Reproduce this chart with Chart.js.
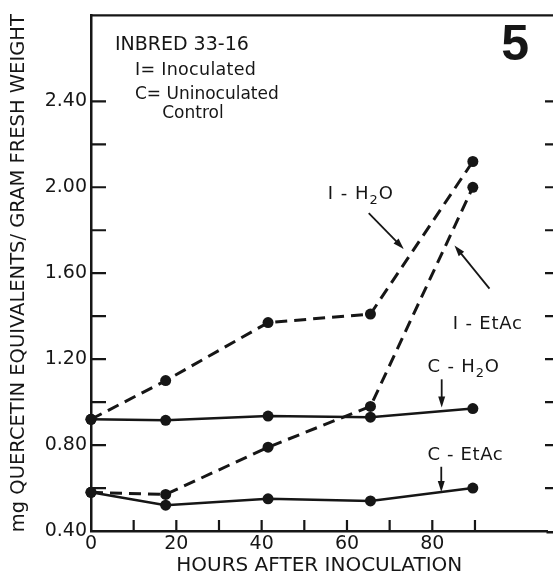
<!DOCTYPE html>
<html>
<head>
<meta charset="utf-8">
<script src="https://cdn.jsdelivr.net/npm/chart.js@4.4.1/dist/chart.umd.min.js"></script>
<style>
  body { margin: 0; background: #fff; }
</style>
</head>
<body>
<canvas id="myChart" width="553" height="579"></canvas>
<script>
    // hours after inoculation
    const hours = [0, 17.5, 41.5, 65.5, 89.5];
    // mg quercetin equivalents / g fresh weight
    const iH2O = [0.92, 1.10, 1.37, 1.41, 2.12];
    const iEtAc = [0.58, 0.57, 0.79, 0.98, 2.00];
    const cH2O = [0.92, 0.915, 0.935, 0.93, 0.97];
    const cEtAc = [0.58, 0.52, 0.55, 0.54, 0.60];
    // tick marks and labelled ticks
    const xTicks = [0, 10, 20, 30, 40, 50, 60, 70, 80, 90];
    const xLabels = [0, 20, 40, 60, 80];
    const yTicks = [0.40, 0.60, 0.80, 1.00, 1.20, 1.40, 1.60, 1.80, 2.00, 2.20, 2.40];
    const yLabels = [0.40, 0.80, 1.20, 1.60, 2.00, 2.40];

    // text notes and arrows, placed in data units
    const notes = [
        {parts: [['INBRED 33-16', 0]], x: 5.6, y: 2.66, size: 19, spacing: 0},
        {parts: [['I= Inoculated', 0]], x: 10.3, y: 2.545, size: 17.5, spacing: 0.3},
        {parts: [['C= Uninoculated', 0]], x: 10.3, y: 2.43, size: 17, spacing: 0},
        {parts: [['Control', 0]], x: 16.7, y: 2.345, size: 17, spacing: 0},
        {parts: [['I - H', 0], ['2', 1], ['O', 0]], x: 55.5, y: 1.965, size: 18, spacing: 1},
        {parts: [['I - EtAc', 0]], x: 84.8, y: 1.36, size: 18, spacing: 0.8},
        {parts: [['C - H', 0], ['2', 1], ['O', 0]], x: 78.9, y: 1.16, size: 18, spacing: 0.8},
        {parts: [['C - EtAc', 0]], x: 78.9, y: 0.75, size: 18, spacing: 0.6}
    ];
    const arrows = [
        {from: [65.1, 1.88], to: [73.3, 1.713]},
        {from: [93.4, 1.528], to: [85.2, 1.729]},
        {from: [82.2, 1.106], to: [82.2, 0.975]},
        {from: [82.1, 0.699], to: [82.1, 0.582]}
    ];

    const black = '#161616';
    Chart.defaults.font.family = '"DejaVu Sans", sans-serif';
    Chart.defaults.color = black;

    function series(label, ys, dashed) {
        return {
            label: label,
            data: hours.map((h, i) => ({x: h, y: ys[i]})),
            borderColor: black,
            backgroundColor: black,
            borderWidth: dashed ? 3 : 2.5,
            borderDash: dashed ? [12, 7] : [],
            pointRadius: 5.5,
            pointBorderWidth: 0,
            pointBackgroundColor: black,
            tension: 0,
            clip: false
        };
    }

    function drawParts(ctx, parts, x, y, size, spacing) {
        let cx = x;
        ctx.letterSpacing = spacing + 'px';
        parts.forEach(([t, sub]) => {
            const s = sub ? size * 0.72 : size;
            ctx.font = s + 'px "DejaVu Sans"';
            ctx.fillText(t, cx, sub ? y + size * 0.32 : y);
            cx += ctx.measureText(t).width;
        });
        ctx.letterSpacing = '0px';
    }

    // inward tick marks, open box, notes
    const paperAxes = {
        id: 'paperAxes',
        beforeDatasetsDraw(chart) {
            const {ctx, chartArea: a, scales: {x, y}} = chart;
            ctx.save();
            ctx.strokeStyle = black;
            ctx.lineWidth = 2.2;
            ctx.beginPath();
            ctx.moveTo(a.left - 1, a.top);
            ctx.lineTo(chart.width, a.top);
            xTicks.slice(1).forEach(v => {
                const px = x.getPixelForValue(v);
                ctx.moveTo(px, a.bottom);
                ctx.lineTo(px, a.bottom - 11);
            });
            yTicks.slice(1).forEach(v => {
                const py = y.getPixelForValue(v);
                ctx.moveTo(a.left, py);
                ctx.lineTo(a.left + 15, py);
                ctx.moveTo(chart.width - 8, py);
                ctx.lineTo(chart.width, py);
            });
            ctx.stroke();
            // x axis runs on to the edge of the page
            ctx.lineWidth = 2.5;
            ctx.beginPath();
            ctx.moveTo(a.right - 1, a.bottom + 1.25);
            ctx.lineTo(chart.width, a.bottom + 1.25);
            ctx.stroke();
            ctx.restore();
        },
        afterDatasetsDraw(chart) {
            const {ctx, scales: {x, y}} = chart;
            ctx.save();
            ctx.fillStyle = black;
            ctx.strokeStyle = black;
            ctx.textBaseline = 'middle';
            ctx.textAlign = 'left';
            notes.forEach(n => {
                drawParts(ctx, n.parts, x.getPixelForValue(n.x), y.getPixelForValue(n.y), n.size, n.spacing);
            });
            // panel number
            ctx.textAlign = 'center';
            ctx.font = 'bold 50px "Liberation Sans"';
            ctx.fillText('5', x.getPixelForValue(99.4), y.getPixelForValue(2.655));
            // arrows
            ctx.lineWidth = 1.8;
            arrows.forEach(ar => {
                const x1 = x.getPixelForValue(ar.from[0]), y1 = y.getPixelForValue(ar.from[1]);
                const x2 = x.getPixelForValue(ar.to[0]), y2 = y.getPixelForValue(ar.to[1]);
                const ang = Math.atan2(y2 - y1, x2 - x1);
                ctx.beginPath();
                ctx.moveTo(x1, y1);
                ctx.lineTo(x2 - 6 * Math.cos(ang), y2 - 6 * Math.sin(ang));
                ctx.stroke();
                ctx.beginPath();
                ctx.moveTo(x2, y2);
                ctx.lineTo(x2 - 11 * Math.cos(ang) + 3.5 * Math.sin(ang), y2 - 11 * Math.sin(ang) - 3.5 * Math.cos(ang));
                ctx.lineTo(x2 - 11 * Math.cos(ang) - 3.5 * Math.sin(ang), y2 - 11 * Math.sin(ang) + 3.5 * Math.cos(ang));
                ctx.closePath();
                ctx.fill();
            });
            ctx.restore();
        }
    };

    let ctx = document.getElementById('myChart');
    let myChart = new Chart(ctx, {
        type: 'line',
        data: {
            datasets: [
                series('I-H2O', iH2O, true),
                series('I-EtAc', iEtAc, true),
                series('C-H2O', cH2O, false),
                series('C-EtAc', cEtAc, false)
            ]
        },
        options: {
            responsive: false,
            animation: false,
            layout: {padding: {top: 15, right: 0, bottom: 0, left: 0}},
            plugins: {
                legend: {display: false},
                tooltip: {enabled: false}
            },
            scales: {
                x: {
                    type: 'linear',
                    min: 0,
                    max: 107,
                    afterBuildTicks: s => { s.ticks = xTicks.map(v => ({value: v})); },
                    afterFit: s => { s.height = 48; },
                    ticks: {
                        callback: v => xLabels.includes(v) ? String(v) : '',
                        font: {size: 19},
                        color: black,
                        padding: 2,
                        maxRotation: 0,
                        autoSkip: false
                    },
                    grid: {display: true, drawOnChartArea: false, drawTicks: false},
                    border: {display: true, color: black, width: 2.5},
                    title: {
                        display: true,
                        text: 'HOURS AFTER INOCULATION',
                        font: {size: 20},
                        color: black,
                        padding: {top: 0, bottom: 1}
                    }
                },
                y: {
                    min: 0.4,
                    max: 2.8,
                    afterBuildTicks: s => { s.ticks = yTicks.map(v => ({value: v})); },
                    afterFit: s => { s.width = 91; },
                    ticks: {
                        callback: v => yLabels.some(l => Math.abs(l - v) < 1e-6) ? v.toFixed(2) : '',
                        font: {size: 19},
                        color: black,
                        padding: 4,
                        autoSkip: false
                    },
                    grid: {display: true, drawOnChartArea: false, drawTicks: false},
                    border: {display: true, color: black, width: 2.5},
                    title: {
                        display: true,
                        text: 'mg QUERCETIN EQUIVALENTS/ GRAM FRESH WEIGHT',
                        font: {size: 19.5},
                        color: black,
                        padding: {top: 7, bottom: 0}
                    }
                }
            }
        },
        plugins: [paperAxes]
    });
</script>
</body>
</html>
